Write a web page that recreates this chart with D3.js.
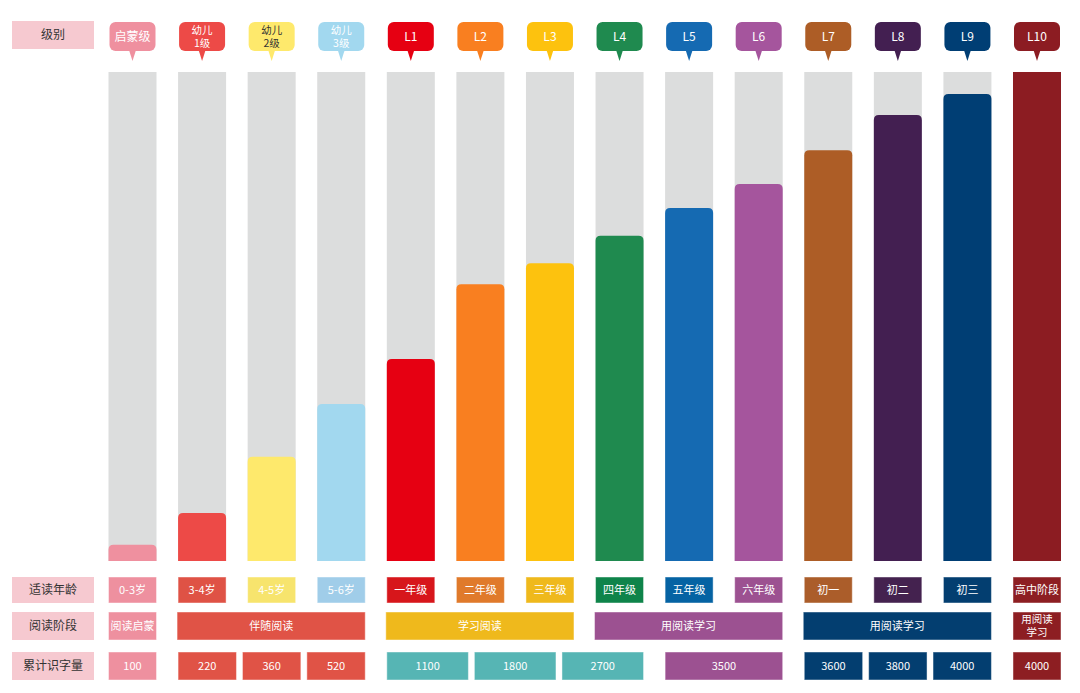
<!DOCTYPE html>
<html>
<head>
<meta charset="utf-8">
<script src="https://cdn.jsdelivr.net/npm/d3@7/dist/d3.min.js"></script>
<style>
  body { margin: 0; background: #fff; }
  svg text { font-family: "Noto Sans CJK SC", "Noto Sans", sans-serif; }
</style>
</head>
<body>
<div id="chart"></div>
<script>
// levels and their bubble labels
var levels = ["启蒙级", "幼儿1级", "幼儿2级", "幼儿3级", "L1", "L2", "L3", "L4", "L5", "L6", "L7", "L8", "L9", "L10"];
var levelLabels = [["启蒙级"], ["幼儿", "1级"], ["幼儿", "2级"], ["幼儿", "3级"], ["L1"], ["L2"], ["L3"], ["L4"], ["L5"], ["L6"], ["L7"], ["L8"], ["L9"], ["L10"]];
// fill of each bar, percent of full column
var progress = [3.3, 9.8, 21.3, 32.1, 41.3, 56.6, 60.9, 66.5, 72.2, 77.1, 84.0, 91.2, 95.5, 100];
var barColors = ["#ef909f", "#ed4a47", "#fee96c", "#a2d8ef", "#e60012", "#f97f20", "#fdc20e", "#1f8a4f", "#156ab2", "#a5559d", "#ad5d26", "#431f51", "#003e74", "#8c1c22"];
var bubbleText = ["#fff", "#fff", "#333", "#fff", "#fff", "#fff", "#fff", "#fff", "#fff", "#fff", "#fff", "#fff", "#fff", "#fff"];

// bottom table
var rowTitles = ["级别", "适读年龄", "阅读阶段", "累计识字量"];
var ages = ["0-3岁", "3-4岁", "4-5岁", "5-6岁", "一年级", "二年级", "三年级", "四年级", "五年级", "六年级", "初一", "初二", "初三", "高中阶段"];
var ageColors = ["#ee909f", "#df5245", "#f7e46d", "#a0cde9", "#d7161b", "#e07a2b", "#efb91c", "#0f844a", "#0563a3", "#9c5191", "#ab5d2a", "#44224f", "#033e70", "#8d1e22"];
var stages = [
  {name: ["阅读启蒙"], from: 0, to: 0, color: "#ee909f"},
  {name: ["伴随阅读"], from: 1, to: 3, color: "#e05346"},
  {name: ["学习阅读"], from: 4, to: 6, color: "#efb91c"},
  {name: ["用阅读学习"], from: 7, to: 9, color: "#9c5191"},
  {name: ["用阅读学习"], from: 10, to: 12, color: "#033e70"},
  {name: ["用阅读", "学习"], from: 13, to: 13, color: "#8d1e22"}
];
var wordCounts = [
  {values: [100], from: 0, to: 0, color: "#ee909f"},
  {values: [220, 360, 520], from: 1, to: 3, color: "#e05346"},
  {values: [1100, 1800, 2700], from: 4, to: 7, color: "#56b5b4"},
  {values: [3500], from: 8, to: 9, color: "#9c5191"},
  {values: [3600, 3800, 4000], from: 10, to: 12, color: "#033e70"},
  {values: [4000], from: 13, to: 13, color: "#8d1e22"}
];

var width = 1080, height = 693;
var svg = d3.select("#chart").append("svg")
    .attr("width", width)
    .attr("height", height);

var x = d3.scaleBand()
    .domain(levels)
    .range([108.5, 1061])
    .paddingInner(0.31)
    .paddingOuter(0);

var y = d3.scaleLinear()
    .domain([0, 100])
    .range([561, 72]);

var bw = x.bandwidth();

// rows of the table (y positions)
var rows = [{y: 21, h: 28}, {y: 577, h: 26}, {y: 612, h: 28}, {y: 652, h: 28}];

// row titles on the left
var titles = svg.append("g");
titles.selectAll("rect")
    .data(rowTitles)
    .enter().append("rect")
    .attr("x", 12)
    .attr("y", function(d, i) { return rows[i].y; })
    .attr("width", 82)
    .attr("height", function(d, i) { return rows[i].h; })
    .attr("fill", "#f6c9d0");
titles.selectAll("text")
    .data(rowTitles)
    .enter().append("text")
    .attr("x", 53)
    .attr("y", function(d, i) { return rows[i].y + rows[i].h / 2; })
    .attr("dy", "0.35em")
    .attr("text-anchor", "middle")
    .attr("font-size", 12)
    .attr("fill", "#333")
    .text(function(d) { return d; });

// grey columns
svg.append("g").selectAll("rect")
    .data(levels)
    .enter().append("rect")
    .attr("x", function(d) { return x(d); })
    .attr("y", y(100))
    .attr("width", bw)
    .attr("height", y(0) - y(100))
    .attr("fill", "#dcdddd");

// coloured bars, rounded top corners
var r = 5;
svg.append("g").selectAll("path")
    .data(levels)
    .enter().append("path")
    .attr("fill", function(d, i) { return barColors[i]; })
    .attr("d", function(d, i) {
        var x0 = x(d), x1 = x(d) + bw, top = y(progress[i]), bot = y(0);
        var rr = progress[i] >= 100 ? 0 : r;
        return "M" + x0 + "," + bot +
            "V" + (top + rr) +
            "Q" + x0 + "," + top + " " + (x0 + rr) + "," + top +
            "H" + (x1 - rr) +
            "Q" + x1 + "," + top + " " + x1 + "," + (top + rr) +
            "V" + bot + "Z";
    });

// bubbles on top
var bubbles = svg.append("g").selectAll("g")
    .data(levels)
    .enter().append("g")
    .attr("transform", function(d) { return "translate(" + (x(d) + bw / 2) + ",0)"; });

bubbles.append("rect")
    .attr("x", -23)
    .attr("y", 22)
    .attr("width", 46)
    .attr("height", 29)
    .attr("rx", 6)
    .attr("fill", function(d, i) { return barColors[i]; });
bubbles.append("path")
    .attr("d", "M-3.5,50L3.5,50L0,61Z")
    .attr("fill", function(d, i) { return barColors[i]; });
bubbles.each(function(d, i) {
    var lines = levelLabels[i];
    var t = d3.select(this).append("text")
        .attr("text-anchor", "middle")
        .attr("font-size", lines.length > 1 ? 10.5 : 12)
        .attr("fill", bubbleText[i]);
    var lh = 13;
    var y0 = 36.5 - (lines.length - 1) * lh / 2;
    lines.forEach(function(s, k) {
        t.append("tspan")
            .attr("x", 0)
            .attr("y", y0 + k * lh)
            .attr("dy", "0.35em")
            .text(s);
    });
});

// helper: draw a cell with centred text lines
function cell(g, x0, x1, row, color, lines) {
    g.append("rect")
        .attr("x", x0)
        .attr("y", row.y)
        .attr("width", x1 - x0)
        .attr("height", row.h)
        .attr("fill", color)
        .attr("stroke", "#fff")
        .attr("stroke-opacity", 0.45)
        .attr("stroke-width", 1);
    var t = g.append("text")
        .attr("text-anchor", "middle")
        .attr("font-size", lines.length > 1 ? 10.5 : 11)
        .attr("fill", "#fff");
    var lh = 13;
    var y0 = row.y + row.h / 2 - (lines.length - 1) * lh / 2;
    lines.forEach(function(s, k) {
        t.append("tspan")
            .attr("x", (x0 + x1) / 2)
            .attr("y", y0 + k * lh)
            .attr("dy", "0.35em")
            .text(s);
    });
}

// row: ages
var ageG = svg.append("g");
ages.forEach(function(a, i) {
    cell(ageG, x(levels[i]), x(levels[i]) + bw, rows[1], ageColors[i], [a]);
});

// row: stages
var stageG = svg.append("g");
stages.forEach(function(s) {
    var x0 = x(levels[s.from]) - (s.to > s.from ? 1 : 0);
    var x1 = x(levels[s.to]) + bw;
    cell(stageG, x0, x1, rows[2], s.color, s.name);
});

// row: cumulative word counts
var countG = svg.append("g");
var gap = 6;
wordCounts.forEach(function(w) {
    var x0 = x(levels[w.from]), x1 = x(levels[w.to]) + bw;
    var n = w.values.length;
    var cw = (x1 - x0 - gap * (n - 1)) / n;
    w.values.forEach(function(v, k) {
        var cx = x0 + k * (cw + gap);
        cell(countG, cx, cx + cw, rows[3], w.color, [String(v)]);
    });
});
</script>
</body>
</html>
